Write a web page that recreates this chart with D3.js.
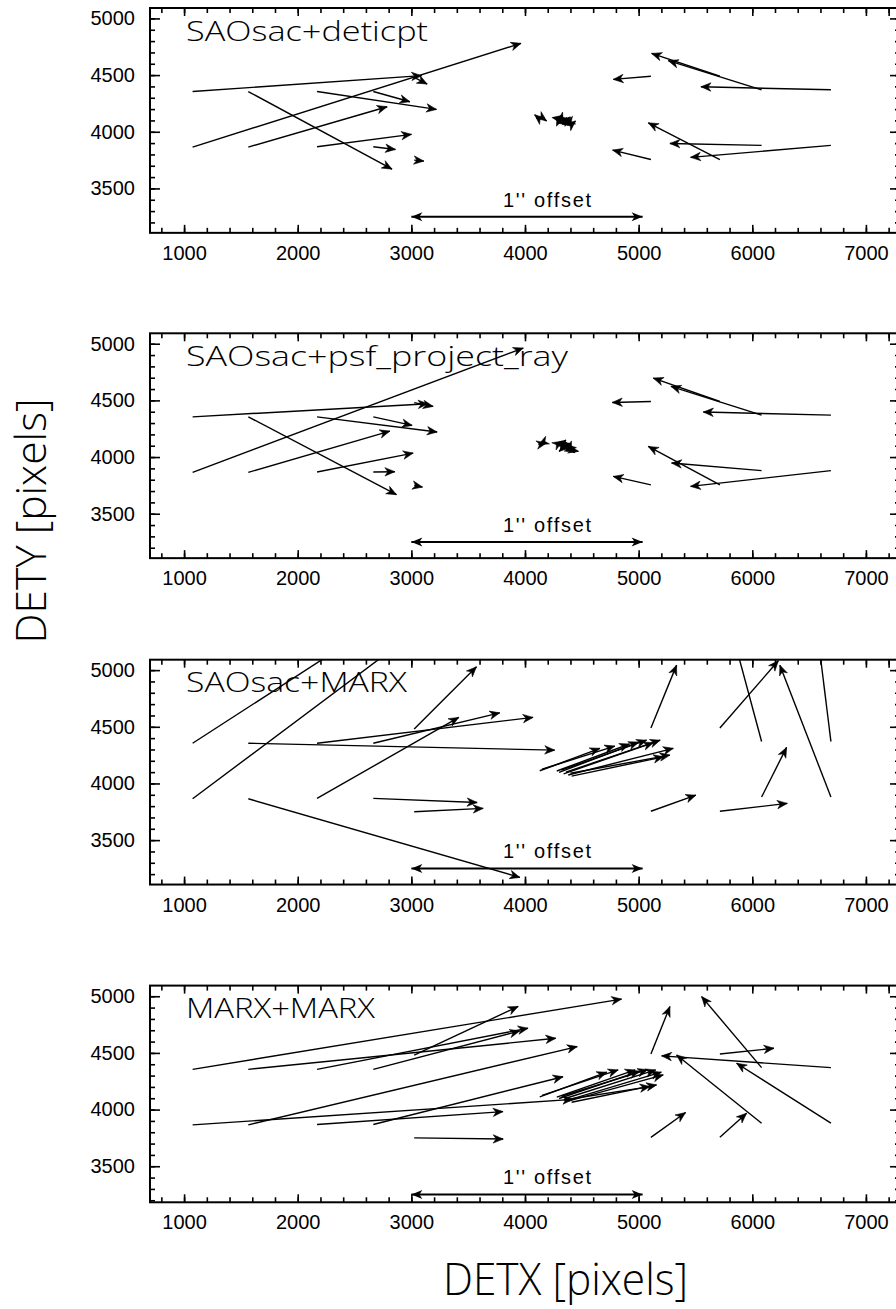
<!DOCTYPE html>
<html>
<head>
<meta charset="utf-8">
<script src="https://cdn.jsdelivr.net/npm/d3@7"></script>
<style>
  body { margin: 0; background: #fff; }
  svg { display: block; }
</style>
</head>
<body>
<svg id="chart"></svg>
<script>
// panel titles
var panelTitles = ['SAOsac+deticpt', 'SAOsac+psf_project_ray', 'SAOsac+MARX', 'MARX+MARX'];
var xTicks = [1000, 2000, 3000, 4000, 5000, 6000, 7000];
var yTicks = [3500, 4000, 4500, 5000];

// source positions (arrow tails), same in every panel
var tailX = [1075, 1075, 1565, 1565, 2170, 2170, 2665, 2665, 3025, 3025,
             5108, 5108, 5715, 5715, 6082, 6082, 6692, 6692,
             4130, 4150, 4280, 4320, 4360, 4380, 4400, 4410, 4340, 4300];
var tailY = [4355, 3865, 4355, 3865, 4355, 3868, 4355, 3868, 4480, 3750,
             4490, 3755, 4490, 3755, 4370, 3880, 4370, 3880,
             4112, 4125, 4110, 4118, 4100, 4075, 4090, 4065, 4085, 4098];

// arrow heads, one pair of arrays per panel
var deticptX = [3090, 3965, 2830, 2787, 3221, 3001, 2987, 2860, 3139, 3110,
                4777, 4771, 5114, 5085, 5261, 5275, 5548, 5457,
                4085, 4190, 4330, 4285, 4400, 4420, 4350, 4445, 4380, 4345];
var deticptY = [4495, 4780, 3670, 4221, 4197, 3977, 4265, 3844, 4421, 3741,
                4462, 3838, 4691, 4079, 4627, 3897, 4397, 3774,
                4150, 4095, 4145, 4090, 4130, 4050, 4070, 4095, 4060, 4115];

var projrayX = [3148, 3985, 2869, 2811, 3227, 3016, 3007, 2855, 3192, 3098,
                4768, 4777, 5129, 5085, 5284, 5290, 5569, 5457,
                4190, 4120, 4330, 4360, 4420, 4440, 4360, 4470, 4300, 4400];
var projrayY = [4470, 4962, 3668, 4229, 4221, 4035, 4279, 3871, 4447, 3735,
                4482, 3829, 4697, 4094, 4624, 3947, 4397, 3741,
                4125, 4110, 4140, 4150, 4080, 4040, 4060, 4050, 4050, 4120];

var saomarxX = [2688, 3120, 4262, 3955, 4071, 3417, 3778, 3579, 3573, 3632,
                5334, 5504, 6229, 6308, 5800, 6302, 6565, 6243,
                4660, 4790, 4920, 5070, 5190, 5305, 5275, 5220, 5130, 5000];
var saomarxY = [5400, 5400, 4294, 3171, 4583, 4583, 4623, 3832, 5029, 3780,
                5044, 3897, 5082, 3824, 5420, 4318, 5400, 5044,
                4310, 4330, 4348, 4382, 4382, 4310, 4250, 4235, 4360, 4365];

var marxmarxX = [4850, 4420, 4271, 4460, 4027, 3807, 3954, 4335, 3940, 3808,
                 5275, 5413, 6191, 5950, 5554, 5334, 5202, 5862,
                 4720, 4820, 4970, 5080, 5150, 5217, 5200, 5158, 5100, 5010];
var marxmarxY = [4975, 4090, 4629, 4556, 4718, 3982, 4694, 4290, 4910, 3740,
                 4909, 3974, 4541, 3968, 4997, 4482, 4474, 4409,
                 4330, 4350, 4350, 4352, 4350, 4306, 4330, 4218, 4203, 4340];

var headsX = [deticptX, projrayX, saomarxX, marxmarxX];
var headsY = [deticptY, projrayY, saomarxY, marxmarxY];

// 1'' offset scale bar
var offsetBar = [3000, 5035];
var offsetBarY = 3250;

// layout
var width = 896, height = 1309;
var panelTop = [8, 333.3, 659.7, 985.6];
var yDomains = [[3108, 5092], [3108, 5092], [3108, 5092], [3182, 5094]];
var pxPerUnitY = 0.11333;
var titleLength = [242, 382, 221, 189];
var labelFont = "'Liberation Sans', Arial, Helvetica, sans-serif";
var thinFont = "'Open Sans', 'DejaVu Sans', sans-serif";

var svg = d3.select('#chart')
  .attr('width', width)
  .attr('height', height)
  .attr('viewBox', '0 0 ' + width + ' ' + height);

var x = d3.scaleLinear().domain([700, 7300]).range([150, 900]);

function arrowHead(x0, y0, x1, y1, len, half) {
  var dx = x1 - x0, dy = y1 - y0;
  var d = Math.sqrt(dx * dx + dy * dy) || 1;
  var ux = dx / d, uy = dy / d;
  var nx = -uy, ny = ux;
  var bx = x1 - len * ux, by = y1 - len * uy;
  var mx = x1 - (len - 3) * ux, my = y1 - (len - 3) * uy;
  return 'M' + x1 + ',' + y1 +
    'L' + (bx + half * nx) + ',' + (by + half * ny) +
    'L' + mx + ',' + my +
    'L' + (bx - half * nx) + ',' + (by - half * ny) + 'Z';
}

function drawPanel(i) {
  var top = panelTop[i];
  var dom = yDomains[i];
  var h = (dom[1] - dom[0]) * pxPerUnitY;
  var y = d3.scaleLinear().domain(dom).range([top + h, top]);
  var g = svg.append('g').attr('class', 'panel');

  g.append('clipPath').attr('id', 'clip' + i)
    .append('rect')
      .attr('x', 150).attr('y', top)
      .attr('width', 750).attr('height', h);

  // minor ticks
  var minorX = d3.range(800, 7300, 200);
  var minorY = d3.range(3200, 5100, 100);
  g.append('g').attr('transform', 'translate(0,' + (top + h) + ')')
    .call(d3.axisBottom(x).tickValues(minorX).tickSizeInner(-5).tickSizeOuter(0).tickFormat(''));
  g.append('g').attr('transform', 'translate(0,' + top + ')')
    .call(d3.axisTop(x).tickValues(minorX).tickSizeInner(-5).tickSizeOuter(0).tickFormat(''));
  g.append('g').attr('transform', 'translate(150,0)')
    .call(d3.axisLeft(y).tickValues(minorY).tickSizeInner(-5).tickSizeOuter(0).tickFormat(''));
  g.append('g').attr('transform', 'translate(900,0)')
    .call(d3.axisRight(y).tickValues(minorY).tickSizeInner(-5).tickSizeOuter(0).tickFormat(''));

  // major ticks
  g.append('g').attr('class', 'xlab').attr('transform', 'translate(0,' + (top + h) + ')')
    .call(d3.axisBottom(x).tickValues(xTicks).tickSizeInner(-8).tickSizeOuter(0)
      .tickPadding(13).tickFormat(d3.format('d')));
  g.append('g').attr('transform', 'translate(0,' + top + ')')
    .call(d3.axisTop(x).tickValues(xTicks.concat([7200])).tickSizeInner(-8).tickSizeOuter(0).tickFormat(''));
  g.append('g').attr('class', 'ylab').attr('transform', 'translate(150,0)')
    .call(d3.axisLeft(y).tickValues(yTicks).tickSizeInner(-10).tickSizeOuter(0)
      .tickPadding(15).tickFormat(d3.format('d')));
  g.append('g').attr('transform', 'translate(900,0)')
    .call(d3.axisRight(y).tickValues(yTicks).tickSizeInner(-10).tickSizeOuter(0).tickFormat(''));

  g.selectAll('.domain').remove();
  g.selectAll('.tick line').attr('stroke', '#000').attr('stroke-width', 1.6);
  g.selectAll('.tick text')
    .attr('fill', '#000')
    .style('font-family', labelFont)
    .style('font-size', '20px');

  g.append('rect')
    .attr('x', 150).attr('y', top)
    .attr('width', 750).attr('height', h)
    .attr('fill', 'none')
    .attr('stroke', '#000')
    .attr('stroke-width', 2);

  // title
  g.append('text')
    .attr('x', 186)
    .attr('y', top + 32.5)
    .attr('textLength', titleLength[i])
    .attr('lengthAdjust', 'spacingAndGlyphs')
    .style('font-family', thinFont)
    .style('font-weight', 300)
    .style('font-size', '28px')
    .text(panelTitles[i]);

  // arrows
  var arrows = tailX.map(function(tx, k) {
    return { x0: tx, y0: tailY[k], x1: headsX[i][k], y1: headsY[i][k] };
  });
  var ag = g.append('g').attr('clip-path', 'url(#clip' + i + ')');
  ag.selectAll('line.shaft')
    .data(arrows)
    .enter()
    .append('line')
      .attr('class', 'shaft')
      .attr('x1', function(d) { return x(d.x0); })
      .attr('y1', function(d) { return y(d.y0); })
      .attr('x2', function(d) { return x(d.x1); })
      .attr('y2', function(d) { return y(d.y1); })
      .attr('stroke', '#000')
      .attr('stroke-width', 1.4);
  ag.selectAll('path.head')
    .data(arrows)
    .enter()
    .append('path')
      .attr('class', 'head')
      .attr('d', function(d) {
        return arrowHead(x(d.x0), y(d.y0), x(d.x1), y(d.y1), 10, 4.2);
      })
      .attr('fill', '#000')
      .attr('stroke', '#000')
      .attr('stroke-width', 0.6);

  // 1'' offset bar
  var bx0 = x(offsetBar[0]), bx1 = x(offsetBar[1]), by = y(offsetBarY);
  g.append('line')
    .attr('x1', bx0).attr('x2', bx1)
    .attr('y1', by).attr('y2', by)
    .attr('stroke', '#000')
    .attr('stroke-width', 2);
  g.append('path').attr('d', arrowHead(bx0, by, bx1, by, 11, 4.5)).attr('fill', '#000');
  g.append('path').attr('d', arrowHead(bx1, by, bx0, by, 11, 4.5)).attr('fill', '#000');
  g.append('text')
    .attr('x', 547)
    .attr('y', y(3340))
    .attr('text-anchor', 'middle')
    .attr('textLength', 88)
    .attr('lengthAdjust', 'spacing')
    .style('font-family', labelFont)
    .style('font-size', '20px')
    .text("1'' offset");
}

function axisTitles() {
  svg.append('text')
    .attr('transform', 'translate(46,521) rotate(-90)')
    .attr('text-anchor', 'middle')
    .attr('textLength', 245)
    .attr('lengthAdjust', 'spacingAndGlyphs')
    .style('font-family', thinFont)
    .style('font-weight', 300)
    .style('font-size', '42px')
    .text('DETY [pixels]');
  svg.append('text')
    .attr('x', 565.5)
    .attr('y', 1295)
    .attr('text-anchor', 'middle')
    .attr('textLength', 245)
    .attr('lengthAdjust', 'spacingAndGlyphs')
    .style('font-family', thinFont)
    .style('font-weight', 300)
    .style('font-size', '44px')
    .text('DETX [pixels]');
}

function init() {
  svg.append('rect').attr('width', width).attr('height', height).attr('fill', '#fff');
  for (var i = 0; i < panelTitles.length; i++) {
    drawPanel(i);
  }
  axisTitles();
}

init();
</script>
</body>
</html>
